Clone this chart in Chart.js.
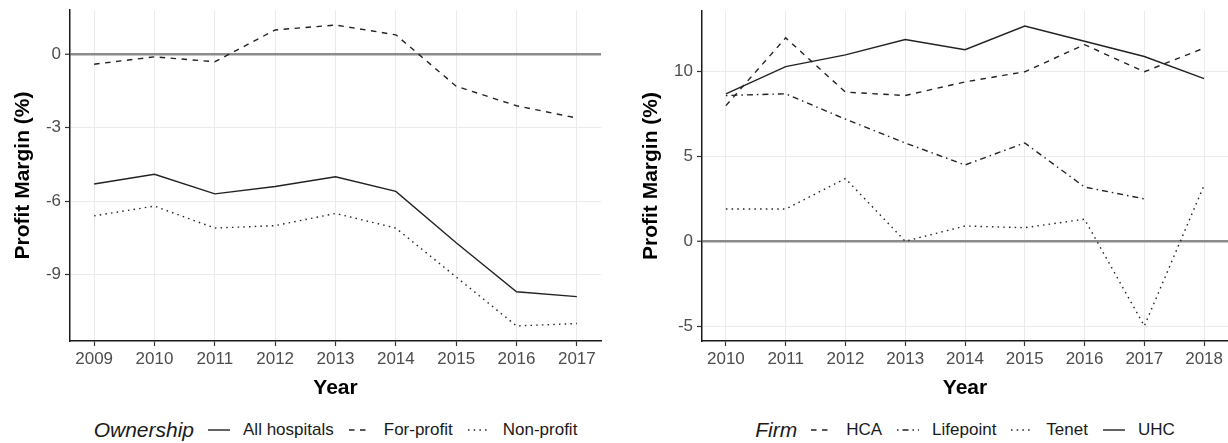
<!DOCTYPE html>
<html>
<head>
<meta charset="utf-8">
<script src="https://cdn.jsdelivr.net/npm/chart.js@4/dist/chart.umd.min.js"></script>
<style>
    body { margin: 0; background: #fff; width: 1228px; height: 443px; position: relative; overflow: hidden; font-family: "Liberation Sans", Arial, sans-serif; }
    .panel { position: absolute; top: 0; }
    .legend { position: absolute; top: 418px; height: 24px; display: flex; align-items: center; justify-content: center; white-space: nowrap; color: #1a1a1a; font-size: 17px; }
    .legend .ttl { font-style: italic; font-size: 21px; margin-right: 14px; }
    .legend svg { margin-right: 13px; }
    .legend .lbl { margin-right: 15px; }
    .legend .lbl:last-child { margin-right: 0; }
</style>
</head>
<body>
<canvas id="ownershipChart" class="panel" width="614" height="410" style="left:0"></canvas>
<canvas id="firmChart" class="panel" width="614" height="410" style="left:614px"></canvas>
<div id="ownershipLegend" class="legend"></div>
<div id="firmLegend" class="legend"></div>
<script>
// left panel: hospitals by ownership
var ownershipYears = [2009, 2010, 2011, 2012, 2013, 2014, 2015, 2016, 2017];
var allHospitals = [-5.3, -4.9, -5.7, -5.4, -5.0, -5.6, -7.7, -9.7, -9.9];
var forProfit = [-0.4, -0.1, -0.3, 1.0, 1.2, 0.8, -1.3, -2.1, -2.6];
var nonProfit = [-6.6, -6.2, -7.1, -7.0, -6.5, -7.1, -9.1, -11.1, -11.0];
var ownershipTicks = [-9, -6, -3, 0];

// right panel: firms
var firmYears = [2010, 2011, 2012, 2013, 2014, 2015, 2016, 2017, 2018];
var hca = [8.0, 12.0, 8.8, 8.6, 9.4, 10.0, 11.6, 10.0, 11.4];
var lifepoint = [8.6, 8.7, 7.2, 5.8, 4.5, 5.8, 3.2, 2.5, null];
var tenet = [1.9, 1.9, 3.7, 0.0, 0.9, 0.8, 1.3, -5.0, 3.3];
var uhc = [8.7, 10.3, 11.0, 11.9, 11.3, 12.7, 11.8, 10.9, 9.6];
var firmTicks = [-5, 0, 5, 10];

Chart.defaults.font.family = '"Liberation Sans", Arial, sans-serif';
Chart.defaults.color = '#4d4d4d';

var LINE = '#222';
var SOLID = [];
var DASHED = [5.5, 5.5];
var DOTTED = [1.5, 4.2];
var DOTDASH = [1.5, 4, 6, 4];

function points(years, vals) {
    return years.map(function (x, i) { return { x: x, y: vals[i] }; });
}

// ggplot style 5% expansion of the data range
function expandRange(series) {
    var vals = [].concat.apply([], series).filter(function (v) { return v !== null; });
    var lo = Math.min.apply(null, vals), hi = Math.max.apply(null, vals);
    var pad = (hi - lo) * 0.05;
    return [lo - pad, hi + pad];
}

function lineSet(label, years, vals, dash) {
    return { label: label, data: points(years, vals), borderColor: LINE, borderWidth: 1.4, borderDash: dash,
             pointRadius: 0, tension: 0, fill: false, spanGaps: false };
}

function makeOptions(years, yTicks, yRange, axisWidth, yTitlePad, padTop, padRight) {
    var xPad = (years[years.length - 1] - years[0]) * 0.05;
    return {
        responsive: false, animation: false, devicePixelRatio: 1,
        layout: { padding: { top: padTop, right: padRight, left: 0, bottom: 0 } },
        plugins: { legend: { display: false }, tooltip: { enabled: false } },
        scales: {
            x: {
                type: 'linear', min: years[0] - xPad, max: years[years.length - 1] + xPad,
                afterBuildTicks: function (s) { s.ticks = years.map(function (v) { return { value: v }; }); },
                afterFit: function (s) { s.height = 69; s.paddingLeft = 0; s.paddingRight = 0; },
                ticks: { autoSkip: false, maxRotation: 0, padding: 3, font: { size: 17 }, color: '#4d4d4d',
                         callback: function (v) { return String(v); } },
                grid: { color: '#ebebeb', lineWidth: 1, drawTicks: true, tickLength: 5, tickColor: '#333', tickWidth: 1.2 },
                border: { display: true, color: '#1a1a1a', width: 1.5 },
                title: { display: true, text: 'Year', color: '#000', font: { size: 21, weight: 'bold' }, padding: { top: 0, bottom: 9.5 } }
            },
            y: {
                type: 'linear', min: yRange[0], max: yRange[1],
                afterBuildTicks: function (s) { s.ticks = yTicks.map(function (v) { return { value: v }; }); },
                afterFit: function (s) { s.width = axisWidth; s.paddingTop = 0; s.paddingBottom = 0; },
                ticks: { padding: 4, font: { size: 17 }, color: '#4d4d4d',
                         callback: function (v) { return String(v); } },
                grid: {
                    color: function (c) { return c.tick && c.tick.value === 0 ? '#8c8c8c' : '#ebebeb'; },
                    lineWidth: function (c) { return c.tick && c.tick.value === 0 ? 2.5 : 1; },
                    drawTicks: true, tickLength: 5, tickColor: '#333', tickWidth: 1.2
                },
                border: { display: true, color: '#1a1a1a', width: 1.5 },
                title: { display: true, text: 'Profit Margin (%)', color: '#000', font: { size: 21, weight: 'bold' }, padding: { top: yTitlePad, bottom: 0 } }
            }
        }
    };
}

var ownershipChart = new Chart(document.getElementById('ownershipChart'), {
    type: 'line',
    data: { datasets: [
        lineSet('All hospitals', ownershipYears, allHospitals, SOLID),
        lineSet('For-profit', ownershipYears, forProfit, DASHED),
        lineSet('Non-profit', ownershipYears, nonProfit, DOTTED)
    ] },
    options: makeOptions(ownershipYears, ownershipTicks, expandRange([allHospitals, forProfit, nonProfit]), 70, 10.5, 10, 13)
});

var firmChart = new Chart(document.getElementById('firmChart'), {
    type: 'line',
    data: { datasets: [
        lineSet('HCA', firmYears, hca, DASHED),
        lineSet('Lifepoint', firmYears, lifepoint, DOTDASH),
        lineSet('Tenet', firmYears, tenet, DOTTED),
        lineSet('UHC', firmYears, uhc, SOLID)
    ] },
    options: makeOptions(firmYears, firmTicks, expandRange([hca, lifepoint, tenet, uhc]), 88, 24.5, 11, 0)
});

function buildLegend(chart, el, title, pageLeft) {
    var area = chart.chartArea;
    el.style.left = (pageLeft + area.left) + 'px';
    el.style.width = (area.right - area.left) + 'px';
    var html = '<span class="ttl">' + title + '</span>';
    chart.data.datasets.forEach(function (ds) {
        html += '<svg width="22" height="12"><line x1="0" y1="6" x2="22" y2="6" stroke="' + ds.borderColor +
                '" stroke-width="' + ds.borderWidth + '" stroke-dasharray="' + (ds.borderDash || []).join(' ') + '"/></svg>';
        html += '<span class="lbl">' + ds.label + '</span>';
    });
    el.innerHTML = html;
}

buildLegend(ownershipChart, document.getElementById('ownershipLegend'), 'Ownership', 0);
buildLegend(firmChart, document.getElementById('firmLegend'), 'Firm', 614);
</script>
</body>
</html>
